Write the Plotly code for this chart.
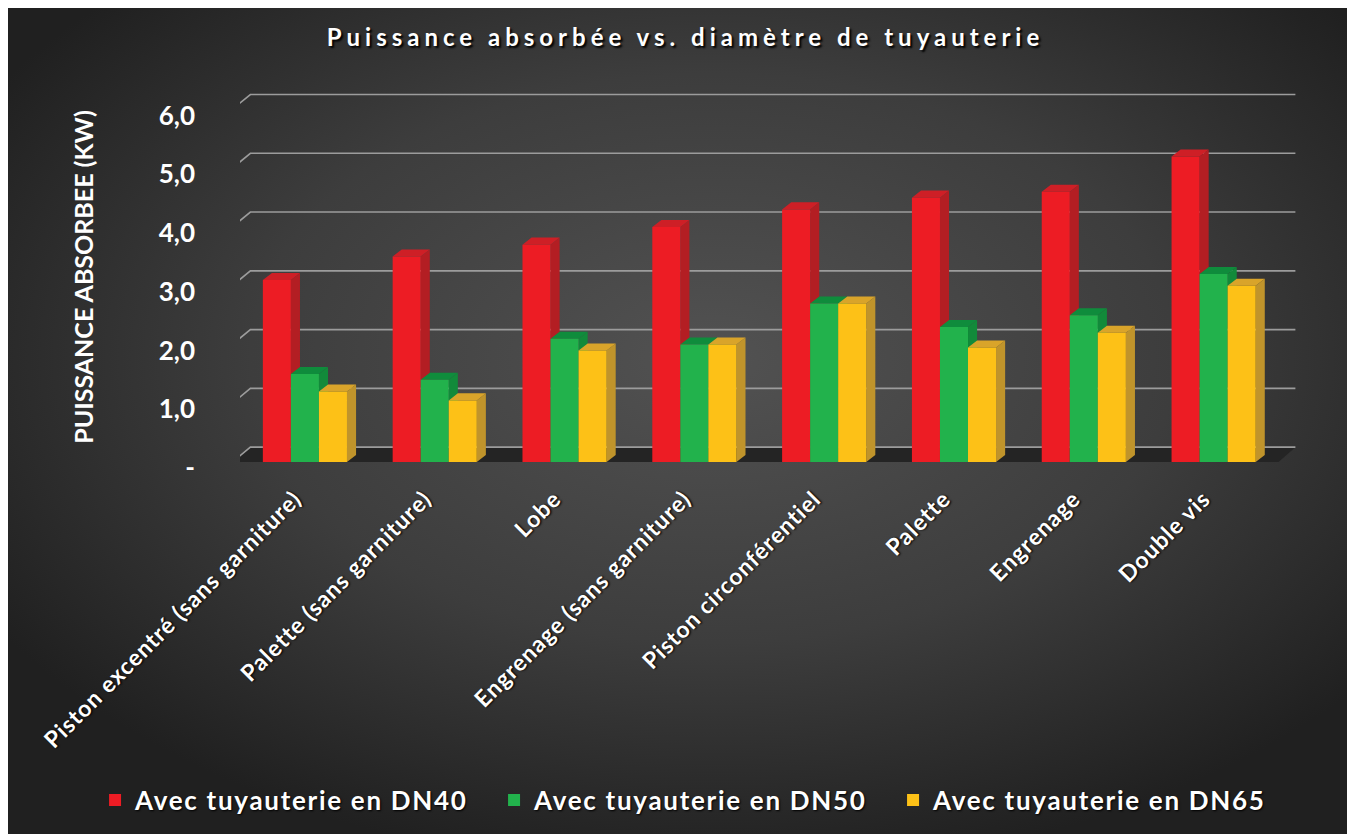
import base64
import plotly.graph_objects as go

# ---------------- data ----------------
categories = ["Piston excentré (sans garniture)", "Palette (sans garniture)", "Lobe",
              "Engrenage (sans garniture)", "Piston circonférentiel", "Palette",
              "Engrenage", "Double vis"]
dn40 = [3.1, 3.5, 3.7, 4.0, 4.3, 4.5, 4.6, 5.2]
dn50 = [1.5, 1.4, 2.1, 2.0, 2.7, 2.3, 2.5, 3.2]
dn65 = [1.2, 1.05, 1.9, 2.0, 2.7, 1.95, 2.2, 3.0]
series_names = ["Avec tuyauterie en DN40", "Avec tuyauterie en DN50", "Avec tuyauterie en DN65"]
y_ticks = [0, 1, 2, 3, 4, 5, 6]
y_ticktext = ["-", "1,0", "2,0", "3,0", "4,0", "5,0", "6,0"]

# ---------------- style ----------------
front_cols = ["#ED1C24", "#22B24C", "#FDC117"]
side_cols = ["#B31E23", "#128A3A", "#C0942B"]
top_cols = ["#CE1F26", "#0F8C3C", "#D9A42A"]
FONT = "Lato"

bar_w = 0.216          # width of one bar (category units)
dx_bar, dy_bar = 0.07, 0.12     # 3D depth of bars
dx_wall, dy_wall = 0.14, 0.255  # depth of back wall
x_left = -0.56
x_right = 7.63

fig = go.Figure()

# floor
fl_x = [x_left, 7.5, x_right, x_left + dx_wall, x_left]
fl_y = [0, 0, dy_wall, dy_wall, 0]
fig.add_trace(go.Scatter(x=fl_x, y=fl_y, fill="toself", fillcolor="#242424",
                         line=dict(width=0), mode="lines", hoverinfo="skip", showlegend=False))

# back-wall gridlines
gx, gy = [], []
for v in y_ticks:
    gx += [x_left, x_left + dx_wall, x_right, None]
    gy += [v, v + dy_wall, v + dy_wall, None]
fig.add_trace(go.Scatter(x=gx, y=gy, mode="lines", line=dict(color="#9C9C9C", width=1.6),
                         hoverinfo="skip", showlegend=False))

# 3D bars built from the values
for s, vals in enumerate([dn40, dn50, dn65]):
    sx, sy, tx, ty, fx, fy = [], [], [], [], [], []
    for i, v in enumerate(vals):
        xl = i + (s - 1.5) * bar_w
        xr = xl + bar_w
        sx += [xr, xr + dx_bar, xr + dx_bar, xr, xr, None]
        sy += [0, dy_bar, v + dy_bar, v, 0, None]
        tx += [xl, xl + dx_bar, xr + dx_bar, xr, xl, None]
        ty += [v, v + dy_bar, v + dy_bar, v, v, None]
        fx += [xl, xr, xr, xl, xl, None]
        fy += [0, 0, v, v, 0, None]
    for px, py, col in [(sx, sy, side_cols[s]), (tx, ty, top_cols[s]), (fx, fy, front_cols[s])]:
        fig.add_trace(go.Scatter(x=px, y=py, fill="toself", fillcolor=col, mode="lines",
                                 line=dict(width=0, color=col), hoverinfo="skip", showlegend=False))
    # legend entry
    fig.add_trace(go.Scatter(x=[None], y=[None], mode="markers",
                             name='<span style="letter-spacing:1.7px">' + series_names[s] + '</span>',
                             marker=dict(symbol="square", size=16, color=front_cols[s])))

# background radial gradient (svg)
W, H = 1355, 834
svg = ('<svg xmlns="http://www.w3.org/2000/svg" width="%d" height="%d">'
       '<defs><radialGradient id="g" cx="52%%" cy="42%%" r="62%%" fx="52%%" fy="42%%">'
       '<stop offset="0%%" stop-color="#525252"/><stop offset="55%%" stop-color="#3d3d3d"/>'
       '<stop offset="100%%" stop-color="#202020"/></radialGradient></defs>'
       '<rect width="%d" height="%d" fill="url(#g)"/></svg>') % (W, H, W, H)
src = "data:image/svg+xml;base64," + base64.b64encode(svg.encode()).decode()

ml, mt = 232, 78
pw, ph = 1057.6, 382.0
mr = W - ml - pw
mb = H - mt - ph
fig.add_layout_image(dict(source=src, xref="paper", yref="paper",
                          x=-ml / pw, y=1 + mt / ph, sizex=W / pw, sizey=H / ph,
                          sizing="stretch", layer="below", xanchor="left", yanchor="top"))

ticktext_x = ['<span style="letter-spacing:1px">' + c + '</span>' for c in categories]

fig.update_layout(
    width=W, height=H,
    margin=dict(l=ml, r=mr, t=mt, b=mb),
    paper_bgcolor="#2e2e2e", plot_bgcolor="rgba(0,0,0,0)",
    title=dict(text='<span style="letter-spacing:5px">Puissance absorbée vs. diamètre de tuyauterie</span>',
               x=0.5, xref="container", xanchor="center", y=0.965, yanchor="middle",
               font=dict(family=FONT, size=24, color="white", weight="bold",
                         shadow="2px 2px 2px #000")),
    xaxis=dict(range=[-0.5, 7.65], tickvals=list(range(len(categories))), ticktext=ticktext_x,
               tickangle=-45, showgrid=False, zeroline=False, showline=False, ticks="",
               tickfont=dict(family=FONT, size=23, color="white", weight="bold",
                             shadow="1px 1px 2px #000"),
               ticklabelstandoff=12, ticklabelshift=-10, fixedrange=True),
    yaxis=dict(range=[-0.1, 6.4], tickvals=y_ticks, ticktext=y_ticktext,
               showgrid=False, zeroline=False, showline=False, ticks="",
               tickfont=dict(family=FONT, size=26, color="white", weight="bold"),
               ticklabelstandoff=44, ticklabelshift=6,
               title=dict(text="PUISSANCE ABSORBEE (KW)", standoff=58,
                          font=dict(family=FONT, size=25, color="white", weight="bold")),
               fixedrange=True),
    legend=dict(orientation="h", x=-0.137, xref="paper", xanchor="left",
                y=1 - (792 - mt) / ph, yref="paper", yanchor="middle",
                font=dict(family=FONT, size=26, color="white", weight="bold",
                          shadow="1px 1px 2px #000"),
                itemsizing="constant", itemwidth=30, traceorder="normal",
                bgcolor="rgba(0,0,0,0)", entrywidth=354),
    showlegend=True,
)

fig.write_html("out.html")
